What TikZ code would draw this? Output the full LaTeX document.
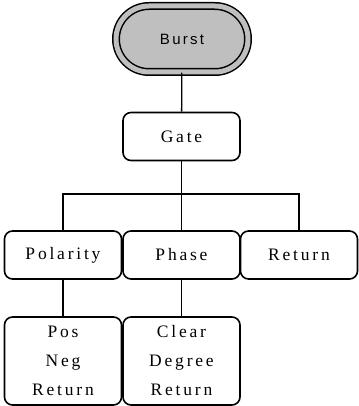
\documentclass[tikz,border=0pt]{standalone}
\usepackage{fontspec}
\newfontfamily\boxfont{Liberation Serif}[LetterSpace=16]
\newfontfamily\rootfont{Liberation Sans}[LetterSpace=15]
\usetikzlibrary{positioning}

\begin{document}
\begin{tikzpicture}[
    x=1pt, y=-1pt,
    every node/.style = {rectangle, draw=black, line width=1.6pt, rounded corners=8pt,
                         inner sep=0pt, align=center, font=\boxfont\fontsize{17.5}{29}\selectfont},
    menu/.style  = {minimum width=117pt, minimum height=48pt},
    opts/.style  = {minimum width=117pt, minimum height=88pt},
    root/.style  = {minimum width=132pt, minimum height=66pt, rounded corners=33pt,
                    line width=1.5pt, double=gray!50, double distance=5pt, fill=gray!50,
                    font=\rootfont\fontsize{15}{18}\selectfont},
    link/.style  = {draw=black, line width=1.3pt}
]
\useasboundingbox (0,0) rectangle (358,406);

% top of the tree
\node[root] (burst) at (182, 39)    {Burst};
\node[menu] (gate)  at (181.5, 136.5) {Gate};

% second row
\node[menu] (polarity) at (63, 255)  {Polarity};
\node[menu] (phase)    at (181.5, 255) {Phase};
\node[menu] (retn)     at (299, 255) {Return};

% third row
\node[opts] (polopts)   at (63, 361)  {Pos\\Neg\\Return};
\node[opts] (phaseopts) at (181.5, 361) {Clear\\Degree\\Return};

% connections
\coordinate (bar) at (181.5, 194);
\draw[link] (burst) -- (gate);
\draw[link] (gate) -- (phase);
\draw[link] (polarity.north) |- (bar) -| (retn.north);
\draw[link] (polarity) -- (polopts);
\draw[link] (phase) -- (phaseopts);

\end{tikzpicture}
\end{document}
